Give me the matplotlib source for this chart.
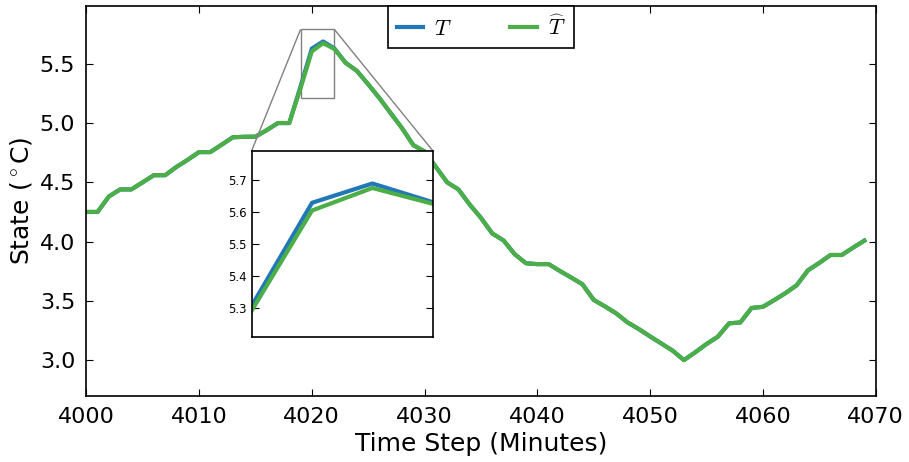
import numpy as np
import matplotlib
matplotlib.use("Agg")
import matplotlib.pyplot as plt
from mpl_toolkits.axes_grid1.inset_locator import mark_inset

plt.rcParams['mathtext.fontset'] = 'cm'

# time steps (minutes)
t = np.arange(4000, 4070)

# true state
T = [4.25, 4.25, 4.38, 4.44, 4.44, 4.50, 4.56, 4.56, 4.63, 4.69,
     4.755, 4.755, 4.817, 4.88, 4.884, 4.885, 4.94, 5.00, 5.00, 5.308,
     5.628, 5.688, 5.630, 5.508, 5.44, 5.327, 5.21, 5.083, 4.957, 4.814,
     4.76, 4.63, 4.50, 4.44, 4.313, 4.20, 4.069, 4.01, 3.893, 3.817,
     3.81, 3.81, 3.752, 3.697, 3.64, 3.508, 3.453, 3.394, 3.318, 3.262,
     3.20, 3.14, 3.08, 3.00, 3.066, 3.136, 3.197, 3.31, 3.318, 3.44,
     3.45, 3.506, 3.565, 3.632, 3.758, 3.82, 3.887, 3.887, 3.949, 4.008]

# estimated state
T_hat = [4.25, 4.25, 4.38, 4.44, 4.44, 4.50, 4.56, 4.56, 4.63, 4.69,
         4.755, 4.755, 4.817, 4.88, 4.884, 4.885, 4.94, 5.00, 5.00, 5.293,
         5.604, 5.674, 5.625, 5.508, 5.44, 5.327, 5.21, 5.083, 4.957, 4.814,
         4.76, 4.63, 4.50, 4.44, 4.313, 4.20, 4.069, 4.01, 3.893, 3.817,
         3.81, 3.81, 3.752, 3.697, 3.64, 3.508, 3.453, 3.394, 3.318, 3.262,
         3.20, 3.14, 3.08, 3.00, 3.066, 3.136, 3.197, 3.31, 3.318, 3.44,
         3.45, 3.506, 3.565, 3.632, 3.758, 3.82, 3.887, 3.887, 3.949, 4.008]

x_ticks = [4000, 4010, 4020, 4030, 4040, 4050, 4060, 4070]
y_ticks = [3.0, 3.5, 4.0, 4.5, 5.0, 5.5]
inset_yticks = [5.3, 5.4, 5.5, 5.6, 5.7]

blue = '#2277b7'
green = '#4cae47'

fig = plt.figure(figsize=(9.09, 4.62), dpi=100)
ax = fig.add_axes([0.0949, 0.1435, 0.8684, 0.8442])

ax.plot(t, T, color=blue, lw=3, label=r'$T$')
ax.plot(t, T_hat, color=green, lw=3, label=r'$\widehat{T}$')

ax.set_xlim(4000, 4070)
ax.set_ylim(2.7, 5.99)
ax.set_xticks(x_ticks)
ax.set_yticks(y_ticks)
ax.set_yticklabels(['%.1f' % v for v in y_ticks])
ax.tick_params(direction='in', top=True, right=True, labelsize=16, length=5, pad=8)
ax.set_xlabel('Time Step (Minutes)', fontsize=18)
ax.set_ylabel(r'State ($^\circ$C)', fontsize=18)
for s in ax.spines.values():
    s.set_linewidth(1.2)

leg = ax.legend(loc='upper center', ncol=2, fontsize=16, fancybox=False,
                handlelength=1.2, handletextpad=0.5, columnspacing=2.6,
                borderaxespad=0.0, framealpha=1)
leg.get_frame().set_edgecolor('black')
leg.get_frame().set_linewidth(1.2)

# zoomed inset around the peak
axins = fig.add_axes([0.2769, 0.2699, 0.1991, 0.404])
axins.plot(t, T, color=blue, lw=3)
axins.plot(t, T_hat, color=green, lw=3)
axins.set_xlim(4019, 4022)
axins.set_ylim(5.21, 5.79)
axins.set_xticks([])
axins.set_yticks(inset_yticks)
axins.set_yticklabels(['%.1f' % v for v in inset_yticks])
axins.tick_params(direction='in', right=True, labelsize=8.5, length=5)
for s in axins.spines.values():
    s.set_linewidth(1.2)
mark_inset(ax, axins, loc1=2, loc2=1, fc='none', ec='0.5', lw=1)

fig.savefig('out.png', dpi=100)
